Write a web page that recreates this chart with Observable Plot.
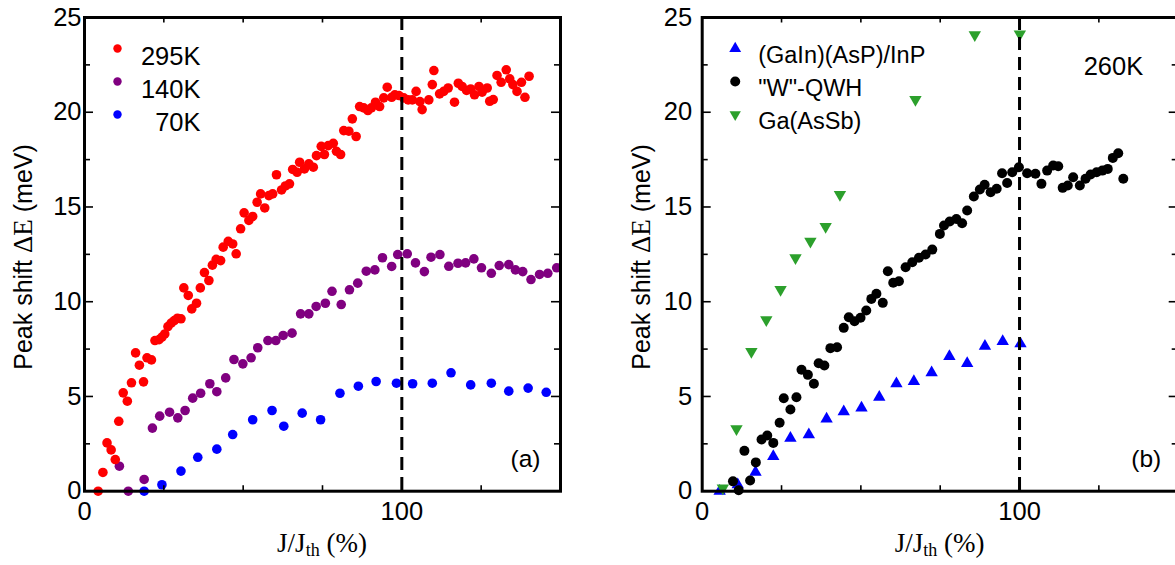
<!DOCTYPE html>
<html><head><meta charset="utf-8">
<script src="https://cdn.jsdelivr.net/npm/d3@7"></script>
<script src="https://cdn.jsdelivr.net/npm/@observablehq/plot@0.6"></script>
<style>
html,body{margin:0;padding:0;background:#fff;overflow:hidden;width:1175px;height:565px}
#wrap{position:relative;width:1175px;height:565px;overflow:hidden;background:#fff}
.panel{position:absolute;top:0}
</style></head><body><div id="wrap"></div>
<script>
// ---------- data (x = J/Jth in %, y = peak shift in meV) ----------
const t295K = [[4.3,0],[5.8,0.99],[7.1,2.55],[8.4,2.18],[9.7,1.67],[10.8,3.69],[12.2,5.19],[13.5,4.75],[14.8,5.72],[16.1,7.30],[17.3,6.65],[18.6,5.77],[19.7,7.04],[21.1,6.93],[22.2,7.95],[23.5,8.0],[24.4,8.13],[25.3,8.3],[26.3,8.69],[27.3,8.87],[28.3,9.0],[29.3,9.13],[30.4,9.1],[31.3,10.73],[32.7,10.33],[33.8,9.62],[35.3,9.92],[36.5,10.73],[37.8,11.54],[39.2,11.12],[40.3,11.93],[41.5,12.24],[42.9,12.17],[43.7,12.88],[45.3,13.19],[46.7,13.05],[47.8,12.53],[49.2,13.85],[50.3,14.69],[51.8,14.29],[53.0,14.5],[54.4,15.25],[55.5,15.69],[56.8,14.95],[58.1,15.6],[59.3,15.69],[60.5,16.7],[62.1,15.9],[63.3,16.11],[64.6,16.22],[65.6,16.98],[67.0,16.83],[67.8,17.36],[69.3,17.01],[70.7,17.28],[72.1,17.1],[73.1,17.71],[74.6,18.2],[75.6,17.77],[76.8,18.24],[78.4,18.36],[79.4,17.94],[80.7,17.77],[81.7,19.03],[83.3,19.0],[84.4,19.65],[85.6,18.72],[86.7,20.3],[88.0,20.23],[89.3,20.09],[90.4,20.23],[91.7,20.53],[93.0,20.3],[94.3,20.76],[95.4,21.32],[96.8,20.79],[97.8,20.92],[99.1,20.88],[100.6,20.76],[102.0,20.65],[103.3,20.65],[104.5,21.1],[105.7,20.56],[106.4,20.14],[108.5,20.65],[109.6,21.46],[110.1,22.2],[111.9,20.97],[113.2,21.1],[114.6,21.28],[116.6,20.53],[117.8,21.53],[119.0,21.36],[120.4,21.15],[121.7,21.23],[122.9,20.92],[124.3,21.36],[125.3,21.06],[126.9,21.28],[127.7,20.58],[128.8,20.67],[130.0,21.94],[131.3,21.58],[132.9,22.24],[134.0,21.76],[135.0,21.46],[136.3,21.1],[137.7,21.58],[138.8,20.79],[140.1,21.90]];
const t140K = [[11.0,1.32],[13.8,0],[18.8,0.62],[21.4,3.33],[23.7,3.96],[26.8,4.17],[29.4,3.87],[31.7,4.26],[34.1,4.91],[36.6,5.17],[39.5,5.67],[41.7,5.25],[44.5,5.98],[47.1,6.95],[49.9,6.72],[52.5,7.04],[54.6,7.57],[57.8,7.95],[60.3,7.95],[62.6,8.22],[65.4,8.34],[68.1,9.36],[70.7,9.36],[73.0,9.75],[75.9,9.92],[78.0,10.55],[80.9,9.85],[83.5,10.63],[86.1,10.98],[88.8,11.61],[91.5,11.68],[93.9,12.32],[96.8,11.86],[98.7,12.49],[101.7,12.53],[104.3,12.05],[107.1,11.59],[109.2,12.35],[112.0,12.49],[114.8,11.87],[117.7,12.03],[120.1,12.05],[122.7,12.26],[125.1,11.79],[128.2,11.5],[130.7,11.91],[133.7,11.96],[135.8,11.68],[138.1,11.59],[140.7,11.17],[143.4,11.44],[146.0,11.5],[148.8,11.79]];
const t70K = [[18.8,0],[24.4,0.34],[30.4,1.06],[35.7,1.79],[41.7,2.22],[46.7,2.99],[53.0,3.77],[59.1,4.26],[62.8,3.43],[68.6,4.12],[74.4,3.77],[80.5,5.17],[86.3,5.54],[91.9,5.79],[98.3,5.70],[103.4,5.67],[109.6,5.70],[115.5,6.25],[121.7,5.61],[128.2,5.70],[133.7,5.28],[139.8,5.44],[145.5,5.22]];
const gainAsp = [[5.5,0],[11.2,0.35],[16.8,1.0],[22.4,1.83],[27.8,2.80],[33.6,2.98],[39.2,3.82],[44.6,4.2],[50.2,4.4],[55.8,4.96],[61.2,5.67],[66.7,5.79],[72.3,6.25],[77.9,7.11],[83.5,6.75],[89.1,7.65],[94.7,7.9],[100.3,7.78]];
const wQwh = [[9.7,0.52],[11.5,0.05],[13.3,2.13],[15.1,0.56],[16.9,1.52],[18.7,2.73],[20.5,2.94],[22.4,2.55],[24.4,3.61],[25.7,4.91],[27.8,4.31],[29.7,4.96],[31.3,6.41],[33.3,6.14],[35.2,5.67],[36.7,6.75],[38.5,6.63],[40.4,7.55],[42.5,7.6],[44.6,8.62],[46.2,9.18],[48.0,8.97],[49.9,9.15],[51.7,9.54],[53.3,10.15],[54.9,10.42],[56.9,9.94],[58.5,11.61],[60.2,11.0],[62.0,11.08],[64.1,11.82],[66.2,12.08],[68.3,12.32],[70.4,12.49],[72.5,12.75],[74.9,13.58],[76.2,14.02],[78.0,14.23],[80.1,14.37],[81.9,14.14],[83.5,14.81],[85.6,15.55],[87.5,15.92],[89.0,16.17],[90.9,15.78],[92.8,15.96],[94.5,16.78],[96.1,16.27],[97.7,16.83],[99.8,17.1],[102.4,16.78],[105.0,16.75],[106.9,16.22],[108.7,16.92],[110.6,17.19],[112.2,17.15],[113.6,16.01],[115.2,16.13],[116.9,16.57],[119.0,16.13],[120.8,16.49],[122.4,16.71],[124.3,16.83],[126.1,16.92],[127.8,17.01],[129.4,17.59],[131.1,17.84],[132.7,16.49]];
const gaAsSb = [[6.5,0.16],[10.8,3.29],[15.5,7.37],[20.2,9.04],[24.7,10.64],[29.4,12.32],[34.1,13.19],[38.9,13.97],[43.4,15.65],[67.2,20.67],[85.9,24.08],[100.1,24.13]];

const xDomain = [0, 150];
const yDomain = [0, 25];
const xTicks = [0, 25, 50, 75, 100, 125, 150];
const xTickLabels = [0, 100];
const yMajor = [0, 5, 10, 15, 20, 25];
const yMinor = [2.5, 7.5, 12.5, 17.5, 22.5];
const thresholdLine = [100];

const legendA = [
  {label: "295K", color: "#ff0000", symbol: "circle", rotate: 0, r: 4.2},
  {label: "140K", color: "#800080", symbol: "circle", rotate: 0, r: 4.2},
  {label: "70K", color: "#0000ff", symbol: "circle", rotate: 0, r: 4.2}
];
const legendB = [
  {label: "(GaIn)(AsP)/InP", color: "#0000ff", symbol: "triangle", rotate: 0, r: 4.4},
  {label: "\"W\"-QWH", color: "#000000", symbol: "circle", rotate: 0, r: 5},
  {label: "Ga(AsSb)", color: "#2ca02c", symbol: "triangle", rotate: 180, r: 4.2}
];

const SANS = "'Liberation Sans', Arial, Helvetica, sans-serif";
const SERIF = "'Liberation Serif', 'Times New Roman', serif";
const FS_NUM = 25.5;

const W = 580, H = 565, MT = 17, MB = 74.3;
const innerW = 476, innerH = H - MT - MB;

function frameMarks(labelPad) {
  const tk = {stroke: "black", strokeWidth: 1.6};
  return [
    // inward ticks built from the tick arrays
    Plot.tickX(xTicks, {x: d => d, insetTop: innerH - 5.5, ...tk}),
    Plot.tickX(xTicks, {x: d => d, insetBottom: innerH - 5.5, ...tk}),
    Plot.tickY(yMajor, {y: d => d, insetRight: innerW - 9, ...tk}),
    Plot.tickY(yMinor, {y: d => d, insetRight: innerW - 6, ...tk}),
    Plot.tickY(yMajor, {y: d => d, insetLeft: innerW - 9, ...tk}),
    Plot.tickY(yMinor, {y: d => d, insetLeft: innerW - 6, ...tk}),
    Plot.frame({stroke: "black", strokeWidth: 3}),
    Plot.axisX(xTickLabels, {anchor: "bottom", tickSize: 0, tickPadding: 11, label: null, fontSize: FS_NUM}),
    Plot.axisY(yMajor, {anchor: "left", tickSize: 0, tickPadding: labelPad, label: null, fontSize: FS_NUM})
  ];
}

function legendMarks(items, dotDx, textDx, textAnchor, fs) {
  const marks = [];
  items.forEach((it, i) => {
    marks.push(Plot.dot([it], {frameAnchor: "top-left", dx: dotDx, dy: 31 + 33 * i, r: it.r,
      symbol: it.symbol, rotate: it.rotate, fill: it.color, stroke: "none"}));
    marks.push(Plot.text([it], {frameAnchor: "top-left", dx: textDx, dy: 29 + 33 * i, text: d => d.label,
      textAnchor, fontSize: fs, fill: "black"}));
  });
  return marks;
}

function addLabels(svg, left, right) {
  const s = d3.select(svg);
  const cx = (left + right) / 2;
  const xl = s.append("text").attr("x", cx).attr("y", 552).attr("text-anchor", "middle")
    .attr("font-family", SERIF).attr("font-size", 27).attr("fill", "black");
  xl.append("tspan").text("J/J");
  xl.append("tspan").attr("font-size", 18).attr("dy", 4).text("th");
  xl.append("tspan").attr("dy", -4).text(" (%)");
  const yl = s.append("text").attr("transform", `translate(${left - 52},257) rotate(-90)`)
    .attr("text-anchor", "middle").attr("font-family", SANS).attr("font-size", 25).attr("fill", "black");
  yl.append("tspan").text("Peak shift ");
  yl.append("tspan").attr("font-family", SERIF).attr("font-size", 27).text("ΔE");
  yl.append("tspan").text(" (meV)");
}

const common = {
  height: H, marginTop: MT, marginBottom: MB,
  x: {domain: xDomain}, y: {domain: yDomain},
  style: {fontFamily: SANS, fontSize: "24px", color: "black", background: "transparent", overflow: "visible"}
};

const xy = {x: d => d[0], y: d => d[1]};

// ---------- panel (a) ----------
const mlA = 84, mrA = W - 84 - innerW;
const plotA = Plot.plot({
  ...common, width: W, marginLeft: mlA, marginRight: mrA,
  marks: [
    Plot.dot(t70K, {...xy, r: 4.8, fill: "#0000ff"}),
    Plot.dot(t140K, {...xy, r: 4.8, fill: "#800080"}),
    Plot.dot(t295K, {...xy, r: 4.8, fill: "#ff0000"}),
    Plot.ruleX(thresholdLine, {stroke: "black", strokeWidth: 3, strokeDasharray: "13,7"}),
    ...frameMarks(3),
    ...legendMarks(legendA, 33, 116, "end", FS_NUM),
    Plot.text(["(a)"], {frameAnchor: "bottom-right", dx: -20, dy: -24, textAnchor: "end", fontSize: 24.5, text: d => d})
  ]
});
plotA.classList.add("panel");
plotA.style.left = "0px";
addLabels(plotA, mlA, mlA + innerW);
document.getElementById("wrap").appendChild(plotA);

// ---------- panel (b) ----------
const mlB = 101.7, mrB = W - 101.7 - innerW;
const plotB = Plot.plot({
  ...common, width: W, marginLeft: mlB, marginRight: mrB,
  marks: [
    Plot.dot(gainAsp, {...xy, r: 4.6, symbol: "triangle", fill: "#0000ff"}),
    Plot.dot(wQwh, {...xy, r: 5, fill: "#000000"}),
    Plot.dot(gaAsSb, {...xy, r: 4.6, symbol: "triangle", rotate: 180, fill: "#2ca02c"}),
    Plot.ruleX(thresholdLine, {stroke: "black", strokeWidth: 3, strokeDasharray: "13,7"}),
    ...frameMarks(10),
    ...legendMarks(legendB, 33, 56, "start", 23.5),
    Plot.text(["260K"], {frameAnchor: "top-right", dx: -35, dy: 39, textAnchor: "end", fontSize: FS_NUM, text: d => d}),
    Plot.text(["(b)"], {frameAnchor: "bottom-right", dx: -17, dy: -24, textAnchor: "end", fontSize: 24.5, text: d => d})
  ]
});
plotB.classList.add("panel");
plotB.style.left = "600px";
addLabels(plotB, mlB, mlB + innerW);
document.getElementById("wrap").appendChild(plotB);
</script></body></html>
